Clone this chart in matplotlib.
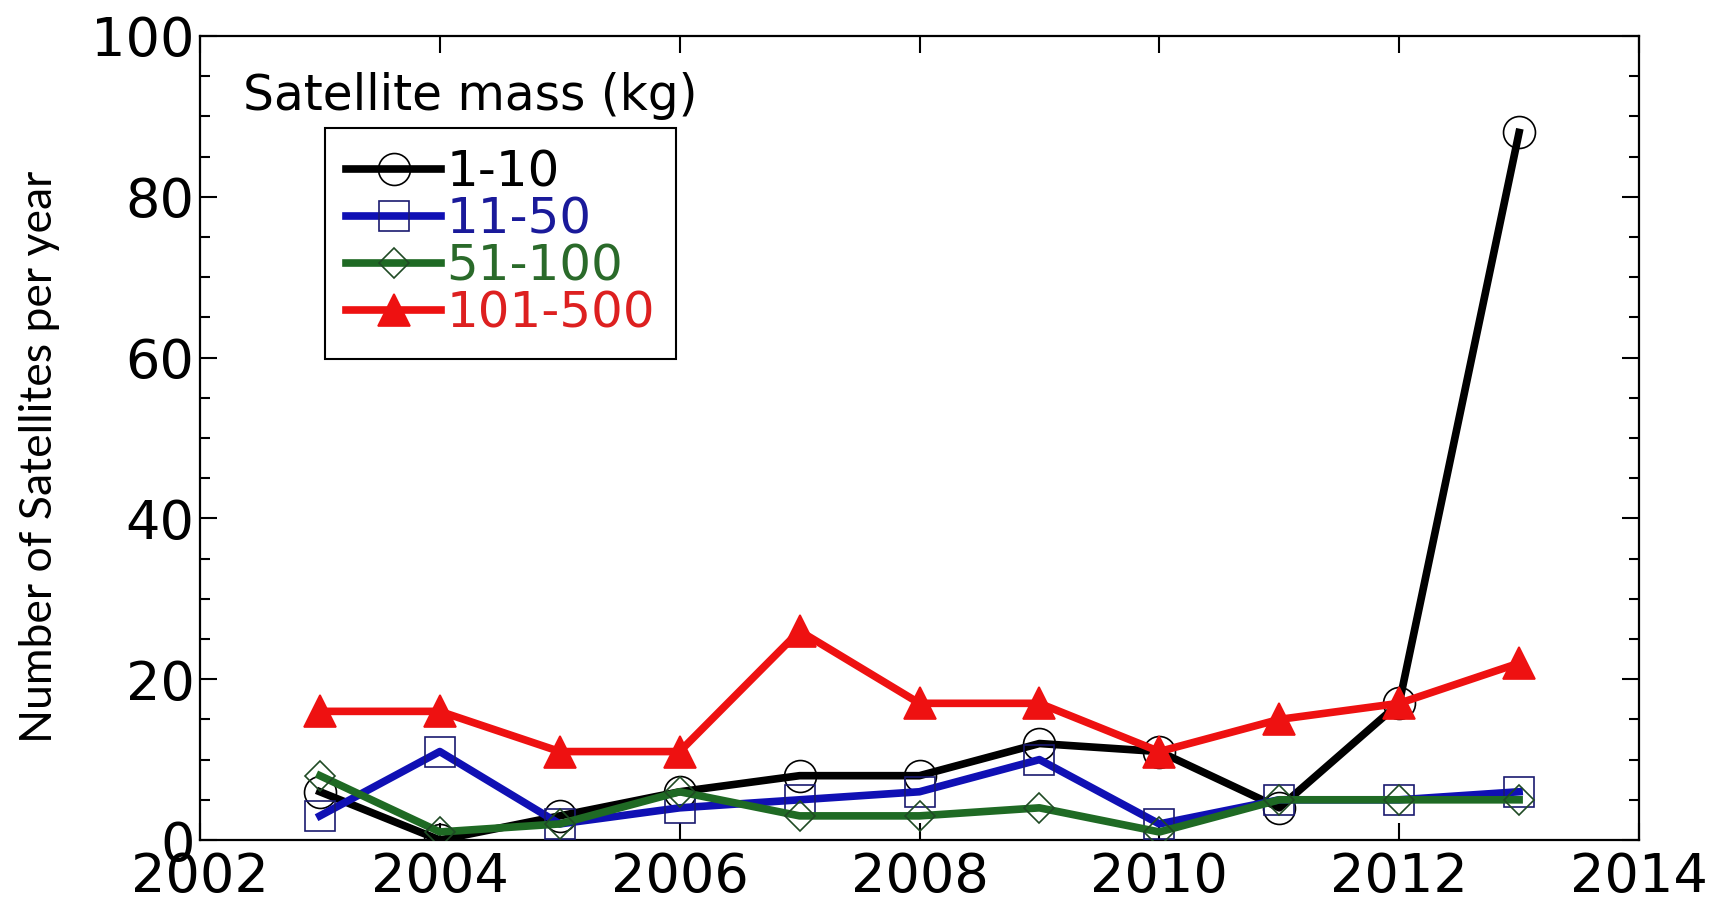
import matplotlib
matplotlib.use("Agg")
import matplotlib.pyplot as plt
from matplotlib.ticker import MultipleLocator

years = [2003, 2004, 2005, 2006, 2007, 2008, 2009, 2010, 2011, 2012, 2013]
mass_1_10 = [6, 0, 3, 6, 8, 8, 12, 11, 4, 17, 88]
mass_11_50 = [3, 11, 2, 4, 5, 6, 10, 2, 5, 5, 6]
mass_51_100 = [8, 1, 2, 6, 3, 3, 4, 1, 5, 5, 5]
mass_101_500 = [16, 16, 11, 11, 26, 17, 17, 11, 15, 17, 22]

labels = ["1-10", "11-50", "51-100", "101-500"]
legend_title = "Satellite mass (kg)"
ylabel = "Number of Satellites per year"

W, H = 1717, 907
fig = plt.figure(figsize=(W / 100, H / 100), dpi=100)
ax = fig.add_axes([200 / W, 1 - 840 / H, (1639 - 200) / W, (840 - 36) / H])

lw = 5.5
mew = 1.2
ax.plot(years, mass_1_10, color="#000000", lw=lw, marker="o", ms=23,
        mfc="none", mec="#000000", mew=mew, label=labels[0], zorder=3)
ax.plot(years, mass_11_50, color="#1010b4", lw=lw, marker="s", ms=22,
        mfc="none", mec="#1a1a70", mew=mew, label=labels[1], zorder=3)
ax.plot(years, mass_51_100, color="#1f6a24", lw=lw, marker="D", ms=15,
        mfc="none", mec="#1f4a24", mew=mew, label=labels[2], zorder=3)
ax.plot(years, mass_101_500, color="#ee1111", lw=lw, marker="^", ms=23,
        mfc="#ee1111", mec="#ee1111", mew=mew, label=labels[3], zorder=3)

ax.set_xlim(2002, 2014)
ax.set_ylim(0, 100)
ax.xaxis.set_major_locator(MultipleLocator(2))
ax.yaxis.set_major_locator(MultipleLocator(20))
ax.yaxis.set_minor_locator(MultipleLocator(5))

for s in ax.spines.values():
    s.set_linewidth(1.6)

ax.tick_params(axis="both", which="both", direction="in", top=True, right=True,
               width=1.5, labelsize=39, colors="black")
ax.tick_params(axis="both", which="major", length=12)
ax.tick_params(axis="both", which="minor", length=7)
ax.tick_params(axis="y", which="major", pad=4)
ax.tick_params(axis="x", which="major", pad=8)
for t in ax.get_xticklabels() + ax.get_yticklabels():
    t.set_fontfamily("DejaVu Sans")

ax.set_ylabel(ylabel, fontsize=32, fontfamily="Lato")
ax.yaxis.set_label_coords(-0.097, 0.477)

ax.text(0.03, 0.955, legend_title, transform=ax.transAxes, fontsize=35,
        fontfamily="DejaVu Sans", va="top", ha="left")

leg = ax.legend(loc="upper left", bbox_to_anchor=(0.087, 0.886),
                prop={"family": "DejaVu Sans", "size": 36},
                labelcolor=["#000000", "#1a1a9a", "#2a6a2a", "#dd2020"],
                handlelength=1.9, handletextpad=0.1, labelspacing=-0.02,
                borderpad=0.42, borderaxespad=0, fancybox=False,
                framealpha=1, edgecolor="black", markerscale=1.0)
leg.get_frame().set_linewidth(1.5)

fig.savefig("out.png", dpi=100)
